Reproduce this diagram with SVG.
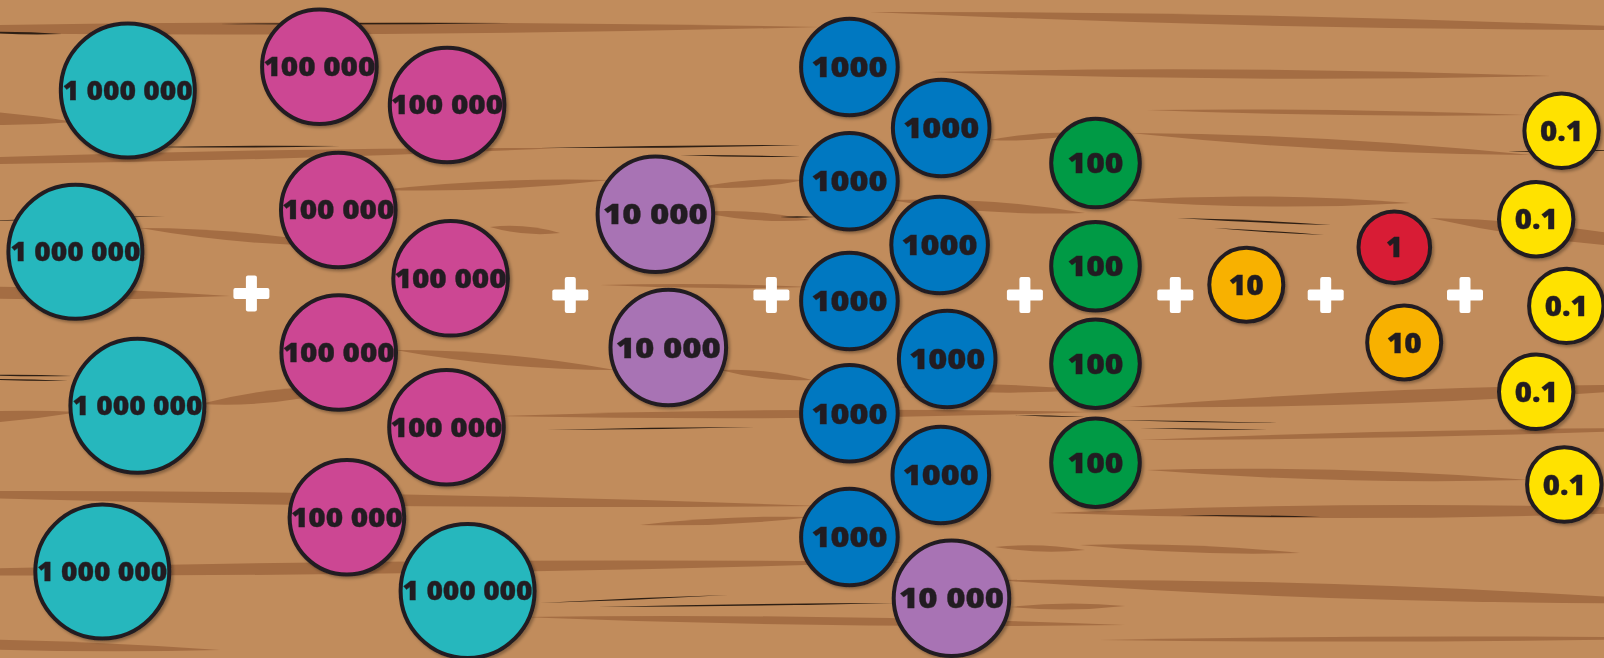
<svg xmlns="http://www.w3.org/2000/svg" xmlns:xlink="http://www.w3.org/1999/xlink" width="1604" height="658" viewBox="0 0 1604 658">
<style>
.grain{fill:#A46D43}
.crack{fill:#2E1F14}
.coin{stroke:#231F20;stroke-width:4}
.teal{fill:#25B7BD}
.pink{fill:#CC4693}
.purple{fill:#A873B4}
.blue{fill:#0078C1}
.green{fill:#009A44}
.orange{fill:#F8B100}
.red{fill:#D81E35}
.yellow{fill:#FFE200}
.lbl{font-family:"Open Sans","Liberation Sans",sans-serif;font-weight:800;fill:#231F20;stroke:#231F20;stroke-width:0.3;text-anchor:middle}
.s{font-size:26px}
.m{font-size:28.5px}
</style>
<defs>
<filter id="sh" x="-20%" y="-20%" width="140%" height="140%">
<feDropShadow dx="2" dy="2" stdDeviation="1.5" flood-color="#000" flood-opacity="0.3"/>
</filter>
<g id="plus">
<rect x="-18" y="-5.5" width="36" height="11" rx="2" fill="#fff"/>
<rect x="-5.5" y="-18" width="11" height="36" rx="2" fill="#fff"/>
</g>
</defs>
<g id="background">
<rect width="1604" height="658" fill="#C18C5C"/>
<path class="grain" d="M-250 30Q285 16.5 820 27Q285 40.5 -250 30Z"/>
<path class="grain" d="M870 12Q1285 11 1700 30Q1285 31 870 12Z"/>
<path class="grain" d="M930 72Q1240 65 1550 76Q1240 83 930 72Z"/>
<path class="grain" d="M-150 112Q-37 103 75 122Q-37 131 -150 112Z"/>
<path class="grain" d="M-200 165Q180 147.5 560 148Q180 165.5 -200 165Z"/>
<path class="grain" d="M380 190Q495 177 610 180Q495 193 380 190Z"/>
<path class="grain" d="M700 187Q752 176.5 805 180Q752 190.5 700 187Z"/>
<path class="grain" d="M140 228Q242 228 345 246Q242 246 140 228Z"/>
<path class="grain" d="M700 212Q755 208 810 220Q755 224 700 212Z"/>
<path class="grain" d="M890 200Q987 196.5 1085 213Q987 216.5 890 200Z"/>
<path class="grain" d="M1120 200Q1265 191.5 1410 203Q1265 211.5 1120 200Z"/>
<path class="grain" d="M1430 218Q1565 220 1700 250Q1565 248 1430 218Z"/>
<path class="grain" d="M1130 133Q1330 134 1530 155Q1330 154 1130 133Z"/>
<path class="grain" d="M1147 110Q1336 107.5 1525 115Q1336 117.5 1147 110Z"/>
<path class="grain" d="M990 140Q1037 130.5 1085 133Q1037 142.5 990 140Z"/>
<path class="grain" d="M-200 290Q15 281 230 296Q15 305 -200 290Z"/>
<path class="grain" d="M490 227Q525 223 560 233Q525 237 490 227Z"/>
<path class="grain" d="M600 285Q705 282 810 287Q705 290 600 285Z"/>
<path class="grain" d="M-150 425Q-35 406.5 80 412Q-35 430.5 -150 425Z"/>
<path class="grain" d="M200 404Q275 384 350 388Q275 408 200 404Z"/>
<path class="grain" d="M395 350Q505 350 615 370Q505 370 395 350Z"/>
<path class="grain" d="M720 370Q766 368 812 380Q766 382 720 370Z"/>
<path class="grain" d="M-200 492Q310 487 820 506Q310 511 -200 492Z"/>
<path class="grain" d="M500 416Q795 406 1090 412Q795 422 500 416Z"/>
<path class="grain" d="M900 387Q992 380.5 1085 390Q992 396.5 900 387Z"/>
<path class="grain" d="M1130 407Q1415 383 1700 385Q1415 409 1130 407Z"/>
<path class="grain" d="M1140 440Q1420 428 1700 428Q1420 440 1140 440Z"/>
<path class="grain" d="M1147 470Q1338 465 1530 480Q1338 485 1147 470Z"/>
<path class="grain" d="M1050 513Q1375 498.5 1700 510Q1375 524.5 1050 513Z"/>
<path class="grain" d="M640 525Q726 515 812 517Q726 527 640 525Z"/>
<path class="grain" d="M-200 574Q352 556 905 562Q352 580 -200 574Z"/>
<path class="grain" d="M995 547Q1040 542.5 1085 550Q1040 554.5 995 547Z"/>
<path class="grain" d="M1080 545Q1190 542 1300 553Q1190 556 1080 545Z"/>
<path class="grain" d="M995 580Q1347 577.5 1700 603Q1347 605.5 995 580Z"/>
<path class="grain" d="M520 617Q822 613 1125 625Q822 629 520 617Z"/>
<path class="grain" d="M-200 640Q10 635 220 650Q10 655 -200 640Z"/>
<path class="grain" d="M1100 640Q1400 634 1700 638Q1400 644 1100 640Z"/>
<path class="grain" d="M1010 607Q1067 600.5 1125 606Q1067 612.5 1010 607Z"/>
<path class="crack" d="M-20 32Q21 31 62 34Q21 35.5 -20 32Z"/>
<path class="crack" d="M220 24Q365 22 510 23Q365 25.5 220 24Z"/>
<path class="crack" d="M150 147Q245 145 340 146Q245 148.5 150 147Z"/>
<path class="crack" d="M540 148Q670 145 800 145Q670 148.5 540 148Z"/>
<path class="crack" d="M680 155Q740 154.5 800 157Q740 157.5 680 155Z"/>
<path class="crack" d="M780 217Q797 215.5 815 217Q797 218.5 780 217Z"/>
<path class="crack" d="M-20 221Q72 217 165 216Q72 220.5 -20 221Z"/>
<path class="crack" d="M-20 375Q26 374 72 376Q26 377 -20 375Z"/>
<path class="crack" d="M-20 379Q24 378.5 68 381Q24 381.5 -20 379Z"/>
<path class="crack" d="M547 430Q651 427 755 427Q651 430 547 430Z"/>
<path class="crack" d="M540 603Q634 597.5 728 595Q634 600.5 540 603Z"/>
<path class="crack" d="M598 607Q746 603.5 895 603Q746 606.5 598 607Z"/>
<path class="crack" d="M1015 415Q1050 415 1085 417Q1050 417.5 1015 415Z"/>
<path class="crack" d="M1177 218Q1254 219.5 1331 225Q1254 223 1177 218Z"/>
<path class="crack" d="M1214 228Q1269 230.5 1324 235Q1269 233 1214 228Z"/>
<path class="crack" d="M1508 152Q1564 149.5 1620 150Q1564 152.5 1508 152Z"/>
<path class="crack" d="M1113 420Q1195 420.5 1277 423Q1195 423 1113 420Z"/>
<path class="crack" d="M1140 428Q1203 428 1267 430Q1203 430.5 1140 428Z"/>
<path class="crack" d="M1180 515Q1250 514.5 1320 517Q1250 517.5 1180 515Z"/>
</g>
<g id="connectors"></g>
<g id="coin-t1" filter="url(#sh)"><circle class="coin teal" cx="127.8" cy="90.5" r="67"/><text class="lbl s" x="127.8" y="99.8" textLength="130" lengthAdjust="spacingAndGlyphs">1 000 000</text></g>
<g id="coin-t2" filter="url(#sh)"><circle class="coin teal" cx="75.4" cy="251.7" r="67"/><text class="lbl s" x="75.4" y="261" textLength="130" lengthAdjust="spacingAndGlyphs">1 000 000</text></g>
<g id="coin-t3" filter="url(#sh)"><circle class="coin teal" cx="137.4" cy="405.8" r="67"/><text class="lbl s" x="137.4" y="415.1" textLength="130" lengthAdjust="spacingAndGlyphs">1 000 000</text></g>
<g id="coin-t4" filter="url(#sh)"><circle class="coin teal" cx="102.3" cy="571.5" r="67"/><text class="lbl s" x="102.3" y="580.8" textLength="130" lengthAdjust="spacingAndGlyphs">1 000 000</text></g>
<g id="coin-t5" filter="url(#sh)"><circle class="coin teal" cx="467.6" cy="591" r="67"/><text class="lbl s" x="467.6" y="600.3" textLength="130" lengthAdjust="spacingAndGlyphs">1 000 000</text></g>
<g id="coin-p1" filter="url(#sh)"><circle class="coin pink" cx="319.4" cy="66.7" r="57.3"/><text class="lbl s" x="319.4" y="76" textLength="112" lengthAdjust="spacingAndGlyphs">100 000</text></g>
<g id="coin-p2" filter="url(#sh)"><circle class="coin pink" cx="447.1" cy="105" r="57.3"/><text class="lbl s" x="447.1" y="114.3" textLength="112" lengthAdjust="spacingAndGlyphs">100 000</text></g>
<g id="coin-p3" filter="url(#sh)"><circle class="coin pink" cx="338.3" cy="210" r="57.3"/><text class="lbl s" x="338.3" y="219.3" textLength="112" lengthAdjust="spacingAndGlyphs">100 000</text></g>
<g id="coin-p4" filter="url(#sh)"><circle class="coin pink" cx="450.6" cy="278.3" r="57.3"/><text class="lbl s" x="450.6" y="287.6" textLength="112" lengthAdjust="spacingAndGlyphs">100 000</text></g>
<g id="coin-p5" filter="url(#sh)"><circle class="coin pink" cx="338.7" cy="352.5" r="57.3"/><text class="lbl s" x="338.7" y="361.8" textLength="112" lengthAdjust="spacingAndGlyphs">100 000</text></g>
<g id="coin-p6" filter="url(#sh)"><circle class="coin pink" cx="446.5" cy="427.2" r="57.3"/><text class="lbl s" x="446.5" y="436.5" textLength="112" lengthAdjust="spacingAndGlyphs">100 000</text></g>
<g id="coin-p7" filter="url(#sh)"><circle class="coin pink" cx="346.9" cy="517.2" r="57.3"/><text class="lbl s" x="346.9" y="526.5" textLength="112" lengthAdjust="spacingAndGlyphs">100 000</text></g>
<g id="coin-u1" filter="url(#sh)"><circle class="coin purple" cx="655.4" cy="214.2" r="57.8"/><text class="lbl m" x="655.4" y="224.4" textLength="105" lengthAdjust="spacingAndGlyphs">10 000</text></g>
<g id="coin-u2" filter="url(#sh)"><circle class="coin purple" cx="668.3" cy="347.5" r="57.8"/><text class="lbl m" x="668.3" y="357.7" textLength="105" lengthAdjust="spacingAndGlyphs">10 000</text></g>
<g id="coin-u3" filter="url(#sh)"><circle class="coin purple" cx="951.5" cy="598.2" r="57.8"/><text class="lbl m" x="951.5" y="608.4" textLength="105" lengthAdjust="spacingAndGlyphs">10 000</text></g>
<g id="coin-b1" filter="url(#sh)"><circle class="coin blue" cx="849.4" cy="67" r="48.3"/><text class="lbl m" x="849.4" y="77.2" textLength="76" lengthAdjust="spacingAndGlyphs">1000</text></g>
<g id="coin-b2" filter="url(#sh)"><circle class="coin blue" cx="941.2" cy="128" r="48.3"/><text class="lbl m" x="941.2" y="138.2" textLength="76" lengthAdjust="spacingAndGlyphs">1000</text></g>
<g id="coin-b3" filter="url(#sh)"><circle class="coin blue" cx="849.4" cy="181.2" r="48.3"/><text class="lbl m" x="849.4" y="191.4" textLength="76" lengthAdjust="spacingAndGlyphs">1000</text></g>
<g id="coin-b4" filter="url(#sh)"><circle class="coin blue" cx="939.6" cy="245" r="48.3"/><text class="lbl m" x="939.6" y="255.2" textLength="76" lengthAdjust="spacingAndGlyphs">1000</text></g>
<g id="coin-b5" filter="url(#sh)"><circle class="coin blue" cx="849.4" cy="301" r="48.3"/><text class="lbl m" x="849.4" y="311.2" textLength="76" lengthAdjust="spacingAndGlyphs">1000</text></g>
<g id="coin-b6" filter="url(#sh)"><circle class="coin blue" cx="947.2" cy="359" r="48.3"/><text class="lbl m" x="947.2" y="369.2" textLength="76" lengthAdjust="spacingAndGlyphs">1000</text></g>
<g id="coin-b7" filter="url(#sh)"><circle class="coin blue" cx="849.4" cy="413.3" r="48.3"/><text class="lbl m" x="849.4" y="423.5" textLength="76" lengthAdjust="spacingAndGlyphs">1000</text></g>
<g id="coin-b8" filter="url(#sh)"><circle class="coin blue" cx="940.8" cy="475" r="48.3"/><text class="lbl m" x="940.8" y="485.2" textLength="76" lengthAdjust="spacingAndGlyphs">1000</text></g>
<g id="coin-b9" filter="url(#sh)"><circle class="coin blue" cx="849.4" cy="537" r="48.3"/><text class="lbl m" x="849.4" y="547.2" textLength="76" lengthAdjust="spacingAndGlyphs">1000</text></g>
<g id="coin-g1" filter="url(#sh)"><circle class="coin green" cx="1095.5" cy="163" r="44.3"/><text class="lbl m" x="1095.5" y="173.2" textLength="56" lengthAdjust="spacingAndGlyphs">100</text></g>
<g id="coin-g2" filter="url(#sh)"><circle class="coin green" cx="1095.5" cy="266.2" r="44.3"/><text class="lbl m" x="1095.5" y="276.4" textLength="56" lengthAdjust="spacingAndGlyphs">100</text></g>
<g id="coin-g3" filter="url(#sh)"><circle class="coin green" cx="1095.5" cy="363.7" r="44.3"/><text class="lbl m" x="1095.5" y="373.9" textLength="56" lengthAdjust="spacingAndGlyphs">100</text></g>
<g id="coin-g4" filter="url(#sh)"><circle class="coin green" cx="1095.5" cy="462.7" r="44.3"/><text class="lbl m" x="1095.5" y="472.9" textLength="56" lengthAdjust="spacingAndGlyphs">100</text></g>
<g id="coin-o1" filter="url(#sh)"><circle class="coin orange" cx="1246.3" cy="284.8" r="37"/><text class="lbl m" x="1246.3" y="295" textLength="35" lengthAdjust="spacingAndGlyphs">10</text></g>
<g id="coin-r1" filter="url(#sh)"><circle class="coin red" cx="1394.3" cy="247.2" r="35.8"/><text class="lbl m" x="1394.3" y="257.4">1</text></g>
<g id="coin-o2" filter="url(#sh)"><circle class="coin orange" cx="1404.2" cy="342.5" r="37"/><text class="lbl m" x="1404.2" y="352.7" textLength="35" lengthAdjust="spacingAndGlyphs">10</text></g>
<g id="coin-y1" filter="url(#sh)"><circle class="coin yellow" cx="1561.6" cy="130.8" r="37.2"/><text class="lbl m" x="1561.6" y="141" textLength="43" lengthAdjust="spacingAndGlyphs">0.1</text></g>
<g id="coin-y2" filter="url(#sh)"><circle class="coin yellow" cx="1536.2" cy="219.2" r="37.2"/><text class="lbl m" x="1536.2" y="229.4" textLength="43" lengthAdjust="spacingAndGlyphs">0.1</text></g>
<g id="coin-y3" filter="url(#sh)"><circle class="coin yellow" cx="1566.3" cy="305.9" r="37.2"/><text class="lbl m" x="1566.3" y="316.1" textLength="43" lengthAdjust="spacingAndGlyphs">0.1</text></g>
<g id="coin-y4" filter="url(#sh)"><circle class="coin yellow" cx="1536.2" cy="391.8" r="37.2"/><text class="lbl m" x="1536.2" y="402" textLength="43" lengthAdjust="spacingAndGlyphs">0.1</text></g>
<g id="coin-y5" filter="url(#sh)"><circle class="coin yellow" cx="1564.3" cy="484.5" r="37.2"/><text class="lbl m" x="1564.3" y="494.7" textLength="43" lengthAdjust="spacingAndGlyphs">0.1</text></g>
<g id="plus-signs">
<use href="#plus" x="251.4" y="293.5"/>
<use href="#plus" x="570.3" y="295"/>
<use href="#plus" x="771.4" y="295"/>
<use href="#plus" x="1024.9" y="295"/>
<use href="#plus" x="1175.3" y="295"/>
<use href="#plus" x="1325.7" y="295"/>
<use href="#plus" x="1465" y="295"/>
</g>
</svg>
